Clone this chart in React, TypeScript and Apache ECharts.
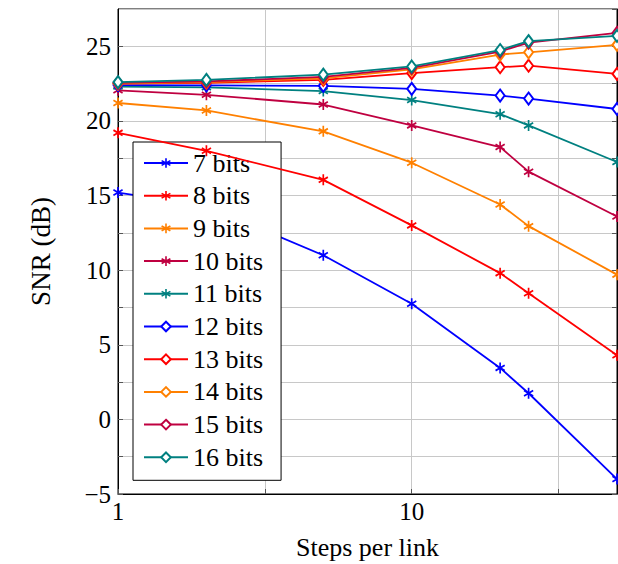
import React, { useEffect, useRef } from "react";
import * as echarts from "echarts";

const steps = [1, 2, 5, 10, 20, 25, 50];
const seriesNames = ["7 bits", "8 bits", "9 bits", "10 bits", "11 bits", "12 bits", "13 bits", "14 bits", "15 bits", "16 bits"];
const bits7 = [15.2, 14.3, 11.0, 7.75, 3.45, 1.75, -4.0];
const bits8 = [19.2, 18.0, 16.05, 13.0, 9.8, 8.45, 4.3];
const bits9 = [21.2, 20.7, 19.3, 17.2, 14.4, 12.95, 9.7];
const bits10 = [22.05, 21.75, 21.1, 19.7, 18.25, 16.6, 13.6];
const bits11 = [22.3, 22.25, 22.0, 21.4, 20.45, 19.7, 17.25];
const bits12 = [22.4, 22.38, 22.35, 22.15, 21.7, 21.5, 20.8];
const bits13 = [22.5, 22.55, 22.75, 23.2, 23.6, 23.7, 23.15];
const bits14 = [22.5, 22.6, 22.85, 23.45, 24.45, 24.6, 25.1];
const bits15 = [22.55, 22.65, 22.95, 23.55, 24.65, 25.25, 25.9];
const bits16 = [22.6, 22.75, 23.1, 23.65, 24.75, 25.35, 25.7];
const allValues = [bits7, bits8, bits9, bits10, bits11, bits12, bits13, bits14, bits15, bits16];
const colors = ["#0000ff", "#ff0000", "#ff8000", "#bf0040", "#008080", "#0000ff", "#ff0000", "#ff8000", "#bf0040", "#008080"];

const ASTERISK =
  "path://M42 0 L58 0 L58 100 L42 100 Z M2.6 32.1 L10.6 18.2 L97.4 67.9 L89.4 81.8 Z M10.6 81.8 L2.6 67.9 L89.4 18.2 L97.4 32.1 Z";

const FONT = "'Liberation Serif', 'DejaVu Serif', serif";

export default function App() {
  const ref = useRef<HTMLDivElement>(null);
  useEffect(() => {
    if (!ref.current) return;
    const chart = echarts.init(ref.current, null, { renderer: "svg" });
    const series = allValues.map((vals, i) => {
      const isAst = i < 5;
      return {
        name: seriesNames[i],
        type: "line",
        data: steps.map((s, j) => [s, vals[j]]),
        symbol: isAst ? ASTERISK : "emptyDiamond",
        symbolSize: isAst ? [10, 11] : [9, 12],
        showAllSymbol: true,
        color: colors[i],
        lineStyle: { width: 1.8, color: colors[i] },
        itemStyle: { color: colors[i], borderColor: colors[i], borderWidth: isAst ? 0 : 1.8 },
        z: 3 + i,
      };
    });
    const yLabel = (v: number) => {
      if (Math.abs(v % 5) > 1e-9) return "";
      return v < 0 ? "\u2212" + Math.abs(v) : String(v);
    };
    chart.setOption({
      animation: false,
      backgroundColor: "#ffffff",
      textStyle: { fontFamily: FONT },
      grid: {
        left: 118,
        right: 1,
        top: 9,
        bottom: 70,
        show: true,
        borderColor: "#000",
        borderWidth: 1,
        containLabel: false,
        outerBoundsMode: "none",
      },
      legend: {
        orient: "vertical",
        left: 133,
        top: 142,
        padding: [8, 18, 10, 10],
        backgroundColor: "#ffffff",
        borderColor: "#000",
        borderWidth: 1,
        itemWidth: 44,
        itemHeight: 12,
        itemGap: 6.7,
        itemTextGap: 10,
        textStyle: { fontFamily: FONT, fontSize: 26, color: "#000" },
        data: seriesNames,
      },
      xAxis: [
        {
          type: "log",
          logBase: Math.sqrt(10),
          min: 1,
          max: 50,
          name: "Steps per link",
          nameLocation: "middle",
          nameGap: 40,
          nameTextStyle: { fontFamily: FONT, fontSize: 26, color: "#000" },
          axisLine: { show: true, onZero: false, lineStyle: { color: "#000", width: 1 } },
          axisTick: { show: true, inside: true, length: 5, lineStyle: { color: "#555" } },
          axisLabel: {
            fontFamily: FONT,
            fontSize: 25,
            color: "#000",
            margin: 5,
            showMaxLabel: false,
            formatter: (v: number) => {
              const l = Math.log10(v);
              return Math.abs(l - Math.round(l)) < 1e-6 ? String(Math.round(v)) : "";
            },
          },
          splitLine: { show: true, lineStyle: { color: "#c8c8c8", width: 1 } },
          minorTick: { show: false },
        },
      ],
      yAxis: [
        {
          type: "value",
          min: -5,
          max: 27.5,
          interval: 2.5,
          name: "SNR (dB)",
          nameLocation: "middle",
          nameGap: 64,
          nameTextStyle: { fontFamily: FONT, fontSize: 27, color: "#000" },
          axisLine: { show: true, onZero: false, lineStyle: { color: "#000", width: 1 } },
          axisTick: { show: true, inside: true, length: 5, lineStyle: { color: "#555" } },
          axisLabel: { fontFamily: FONT, fontSize: 25, color: "#000", margin: 7, showMaxLabel: false, formatter: yLabel },
          splitLine: { show: true, lineStyle: { color: "#c8c8c8", width: 1 } },
        },
        {
          type: "value",
          position: "right",
          min: -5,
          max: 27.5,
          interval: 2.5,
          axisLine: { show: true, onZero: false, lineStyle: { color: "#000", width: 1 } },
          axisTick: { show: true, inside: true, length: 5, lineStyle: { color: "#555" } },
          axisLabel: { show: false },
          splitLine: { show: false },
        },
      ],
      series,
    });
    return () => chart.dispose();
  }, []);
  return <div ref={ref} style={{ position: "fixed", left: 0, top: 0, width: 618, height: 564 }} />;
}
